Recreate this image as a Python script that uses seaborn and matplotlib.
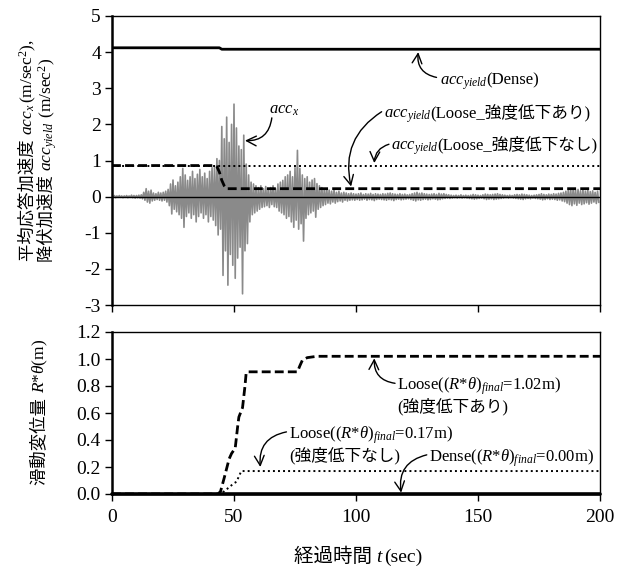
import matplotlib
matplotlib.use("Agg")
import matplotlib.pyplot as plt
import matplotlib.transforms as mtrans
import seaborn as sns
import pandas as pd

# ---------------- data ----------------
acc_time = list(range(0, 200))
acc_hi = [
    0.02, 0.03, 0.02, 0.03, 0.02, 0.02, 0.03, 0.02, 0.04, 0.03,
    0.03, 0.04, 0.05, 0.12, 0.22, 0.15, 0.18, 0.10, 0.08, 0.12,
    0.10, 0.12, 0.15, 0.20, 0.35, 0.46, 0.30, 0.40, 0.55, 0.78,
    0.60, 0.45, 0.55, 0.70, 0.50, 0.62, 0.75, 0.55, 0.65, 0.50,
    0.70, 0.80, 0.83, 1.05, 1.00, 1.94, 1.60, 2.20, 1.50, 2.00,
    2.56, 1.90, 1.40, 1.30, 1.70, 0.90, 0.60, 0.40, 0.35, 0.30,
    0.25, 0.30, 0.22, 0.28, 0.20, 0.25, 0.30, 0.22, 0.35, 0.40,
    0.45, 0.55, 0.60, 0.70, 0.55, 0.80, 1.28, 0.78, 0.60, 0.50,
    0.55, 0.40, 0.46, 0.50, 0.36, 0.30, 0.25, 0.20, 0.22, 0.18,
    0.15, 0.18, 0.12, 0.15, 0.10, 0.12, 0.10, 0.08, 0.10, 0.08,
    0.07, 0.08, 0.10, 0.06, 0.08, 0.07, 0.09, 0.06, 0.08, 0.07,
    0.06, 0.08, 0.07, 0.09, 0.10, 0.08, 0.07, 0.06, 0.08, 0.06,
    0.07, 0.05, 0.06, 0.08, 0.10, 0.12, 0.09, 0.10, 0.08, 0.07,
    0.06, 0.07, 0.08, 0.06, 0.09, 0.07, 0.08, 0.06, 0.05, 0.04,
    0.03, 0.04, 0.03, 0.05, 0.03, 0.04, 0.03, 0.04, 0.06, 0.05,
    0.04, 0.03, 0.05, 0.07, 0.06, 0.05, 0.06, 0.07, 0.08, 0.06,
    0.05, 0.04, 0.03, 0.04, 0.03, 0.05, 0.06, 0.05, 0.07, 0.06,
    0.05, 0.04, 0.03, 0.04, 0.05, 0.06, 0.08, 0.06, 0.05, 0.07,
    0.06, 0.08, 0.07, 0.09, 0.10, 0.12, 0.15, 0.18, 0.20, 0.22,
    0.18, 0.20, 0.16, 0.19, 0.15, 0.18, 0.14, 0.16, 0.12, 0.15,
]
acc_lo = [
    -0.02, -0.03, -0.02, -0.02, -0.03, -0.02, -0.03, -0.02, -0.03, -0.04,
    -0.03, -0.04, -0.06, -0.10, -0.15, -0.18, -0.12, -0.10, -0.08, -0.10,
    -0.12, -0.10, -0.15, -0.25, -0.48, -0.35, -0.42, -0.50, -0.60, -0.85,
    -0.55, -0.45, -0.60, -0.50, -0.70, -0.55, -0.45, -0.60, -0.50, -0.70,
    -0.55, -0.65, -0.80, -1.06, -0.90, -2.18, -1.50, -2.45, -1.60, -1.90,
    -2.26, -1.70, -1.40, -2.69, -1.50, -1.30, -0.70, -0.50, -0.45, -0.40,
    -0.35, -0.30, -0.28, -0.25, -0.30, -0.22, -0.28, -0.30, -0.40, -0.45,
    -0.50, -0.60, -0.55, -0.70, -0.85, -0.65, -0.90, -0.75, -1.23, -0.60,
    -0.50, -0.45, -0.40, -0.57, -0.35, -0.30, -0.25, -0.22, -0.18, -0.20,
    -0.15, -0.18, -0.14, -0.12, -0.15, -0.10, -0.12, -0.10, -0.09, -0.10,
    -0.08, -0.10, -0.09, -0.07, -0.10, -0.08, -0.09, -0.11, -0.08, -0.07,
    -0.08, -0.09, -0.10, -0.08, -0.09, -0.11, -0.08, -0.07, -0.09, -0.08,
    -0.07, -0.06, -0.08, -0.10, -0.12, -0.09, -0.10, -0.08, -0.07, -0.09,
    -0.08, -0.06, -0.07, -0.09, -0.08, -0.06, -0.05, -0.04, -0.05, -0.04,
    -0.03, -0.04, -0.03, -0.04, -0.03, -0.04, -0.05, -0.06, -0.07, -0.06,
    -0.05, -0.04, -0.06, -0.08, -0.07, -0.06, -0.08, -0.07, -0.06, -0.05,
    -0.04, -0.03, -0.04, -0.03, -0.04, -0.05, -0.06, -0.07, -0.08, -0.06,
    -0.05, -0.06, -0.04, -0.05, -0.06, -0.07, -0.09, -0.08, -0.06, -0.08,
    -0.07, -0.08, -0.10, -0.09, -0.12, -0.14, -0.18, -0.22, -0.25, -0.20,
    -0.24, -0.18, -0.22, -0.20, -0.17, -0.21, -0.18, -0.15, -0.19, -0.16,
]

yield_dense_t = [0, 44, 45, 200]
yield_dense_v = [4.12, 4.12, 4.08, 4.08]
yield_loose_red_t = [0, 42, 43, 44, 45, 46, 47, 200]
yield_loose_red_v = [0.86, 0.86, 0.83, 0.68, 0.45, 0.30, 0.22, 0.22]
yield_loose_nored_t = [0, 200]
yield_loose_nored_v = [0.86, 0.86]

disp_red_t = [0, 43.5, 44.5, 46, 48, 49, 50.5, 51.5, 52, 53.5, 54.5, 55, 56, 76, 77, 78, 80, 84, 200]
disp_red_v = [0, 0, 0.02, 0.12, 0.26, 0.30, 0.34, 0.50, 0.57, 0.64, 0.80, 0.90, 0.905, 0.905, 0.95, 0.99, 1.01, 1.02, 1.02]
disp_nored_t = [0, 44, 46, 48, 50, 51, 52, 53, 200]
disp_nored_v = [0, 0, 0.02, 0.05, 0.08, 0.09, 0.13, 0.17, 0.17]
disp_dense_t = [0, 200]
disp_dense_v = [0, 0]

acc_ticks = [-3, -2, -1, 0, 1, 2, 3, 4, 5]
disp_ticks = [0.0, 0.2, 0.4, 0.6, 0.8, 1.0, 1.2]
time_ticks = [0, 50, 100, 150, 200]

# ---------------- style ----------------
sns.set_style("ticks")
SERIF = "Liberation Serif"
FAM = [SERIF, "Noto Sans CJK JP"]
plt.rcParams["font.family"] = FAM
plt.rcParams["mathtext.fontset"] = "custom"
plt.rcParams["mathtext.rm"] = SERIF
plt.rcParams["mathtext.it"] = SERIF + ":italic"
plt.rcParams["mathtext.bf"] = SERIF + ":bold"
plt.rcParams["axes.unicode_minus"] = False

W, H = 631, 568
fig = plt.figure(figsize=(W / 100, H / 100), dpi=100)
ax1 = fig.add_axes([112 / W, 1 - 305 / H, 488 / W, 289 / H])
ax2 = fig.add_axes([112 / W, 1 - 494 / H, 488 / W, 162 / H])

# interleave max/min per second to draw the dense record
sig_t, sig_v = [], []
for t, hi, lo in zip(acc_time, acc_hi, acc_lo):
    sig_t += [t, t + 0.5]
    sig_v += [hi, lo]
sig = pd.DataFrame({"t": sig_t, "v": sig_v})

sns.lineplot(data=sig, x="t", y="v", ax=ax1, estimator=None, sort=False,
             color="#8a8a8a", linewidth=1.2, zorder=2)
ax1.axhline(0, color="black", lw=1.0, zorder=3)
sns.lineplot(x=yield_dense_t, y=yield_dense_v, ax=ax1, estimator=None, sort=False,
             color="black", linewidth=2.0, zorder=4)
sns.lineplot(x=yield_loose_nored_t, y=yield_loose_nored_v, ax=ax1, estimator=None, sort=False,
             color="black", linewidth=1.4, linestyle=(0, (1, 1.6)), zorder=4)
sns.lineplot(x=yield_loose_red_t, y=yield_loose_red_v, ax=ax1, estimator=None, sort=False,
             color="black", linewidth=2.0, linestyle=(0, (3.2, 1.5)), zorder=5)

sns.lineplot(x=disp_nored_t, y=disp_nored_v, ax=ax2, estimator=None, sort=False,
             color="black", linewidth=1.4, linestyle=(0, (1, 1.6)), zorder=4)
sns.lineplot(x=disp_red_t, y=disp_red_v, ax=ax2, estimator=None, sort=False,
             color="black", linewidth=2.0, linestyle=(0, (3.2, 1.5)), zorder=5)
sns.lineplot(x=disp_dense_t, y=disp_dense_v, ax=ax2, estimator=None, sort=False,
             color="black", linewidth=2.6, zorder=6, clip_on=False)

for ax in (ax1, ax2):
    ax.set_xlim(0, 200)
    ax.set_xticks(time_ticks)
    ax.set_xlabel("")
    ax.set_ylabel("")
    for s in ax.spines.values():
        s.set_linewidth(1.0)
        s.set_color("black")
    ax.spines["left"].set_linewidth(1.8)
    ax.tick_params(axis="both", direction="out", length=5, width=1.0,
                   labelsize=14, pad=4, colors="black")
    ax.tick_params(axis="y", pad=3)

ax1.set_ylim(-3, 5)
ax1.set_yticks(acc_ticks)
ax1.set_yticklabels([str(v) for v in acc_ticks])
ax1.set_xticklabels([])
ax2.set_ylim(0, 1.2)
ax2.set_yticks(disp_ticks)
ax2.set_yticklabels([f"{v:.1f}" for v in disp_ticks])
ax2.set_xticklabels([str(v) for v in time_ticks])
ax2.tick_params(axis="x", pad=6)

# ---------------- text helpers ----------------
ID = mtrans.IdentityTransform()
renderer = fig.canvas.get_renderer()


def place(pieces, x, y, size, rotation=0, center=False):
    """pieces laid out one after another along the baseline; x, y in display px."""
    texts = []
    for s in pieces:
        t = fig.text(0, 0, s, fontsize=size, family=FAM, ha="left", va="baseline",
                     rotation=rotation, rotation_mode="anchor", transform=ID, color="black")
        texts.append(t)
    lens = []
    for s, t in zip(pieces, texts):
        bb = t.get_window_extent(renderer)
        L = bb.width if rotation == 0 else bb.height
        if s.endswith("}$"):
            L -= 1.5
        lens.append(L)
    pos = -sum(lens) / 2 if center else 0
    for t, L in zip(texts, lens):
        if rotation == 0:
            t.set_position((x + pos, y))
        else:
            t.set_position((x, y + pos))
        pos += L


def d2p(ax, x, y):
    return ax.transData.transform((x, y))


def arrow(ax, start, tip, rad):
    ax.annotate("", xy=tip, xytext=start, xycoords="data", textcoords="data",
                arrowprops=dict(arrowstyle="->,head_length=0.7,head_width=0.35",
                                connectionstyle=f"arc3,rad={rad}", color="black",
                                lw=1.0, shrinkA=0, shrinkB=0), annotation_clip=False)


ANN = 12
# top panel annotations
px, py = d2p(ax1, 134.5, 3.10)
place([r"$acc_{yield}$", "(Dense)"], px, py, ANN)
arrow(ax1, (133.0, 3.30), (125.5, 4.0), -0.45)

px, py = d2p(ax1, 64.5, 2.30)
place([r"$acc_x$"], px, py, ANN)
arrow(ax1, (65.5, 2.18), (54.5, 1.55), -0.45)

px, py = d2p(ax1, 111.5, 2.18)
place([r"$acc_{yield}$", "(Loose_強度低下あり)"], px, py, ANN)
arrow(ax1, (110.5, 2.35), (98.0, 0.28), 0.35)

px, py = d2p(ax1, 114.5, 1.30)
place([r"$acc_{yield}$", "(Loose_強度低下なし)"], px, py, ANN)
arrow(ax1, (113.5, 1.45), (107.5, 0.93), 0.35)

# bottom panel annotations
px, py = d2p(ax2, 117.0, 0.77)
place([r"Loose($(R$*$\theta)_{final}$=1.02m)"], px, py, ANN)
px, py = d2p(ax2, 117.0, 0.61)
place(["(強度低下あり)"], px, py, ANN)
arrow(ax2, (116.0, 0.82), (107.5, 1.005), -0.45)

px, py = d2p(ax2, 72.5, 0.41)
place([r"Loose($(R$*$\theta)_{final}$=0.17m)"], px, py, ANN)
px, py = d2p(ax2, 72.5, 0.25)
place(["(強度低下なし)"], px, py, ANN)
arrow(ax2, (71.5, 0.46), (60.8, 0.20), 0.45)

px, py = d2p(ax2, 130.0, 0.24)
place([r"Dense($(R$*$\theta)_{final}$=0.00m)"], px, py, ANN)
arrow(ax2, (129.0, 0.29), (118.5, 0.01), 0.45)

# axis labels
LBL = 12.5
place(["平均応答加速度 ", r"$acc_x$", r"(m/sec$^2$),"], 33, H - 150, LBL, rotation=90, center=True)
place(["降伏加速度 ", r"$acc_{yield}$", r" (m/sec$^2$)"], 52, H - 160, LBL, rotation=90, center=True)
place(["滑動変位量 ", r"$R$*$\theta$(m)"], 44, H - 412, LBL, rotation=90, center=True)
place(["経過時間 ", r"$t$", "(sec)"], 358, H - 562, 14, center=True)

fig.savefig("out.png", dpi=100)
